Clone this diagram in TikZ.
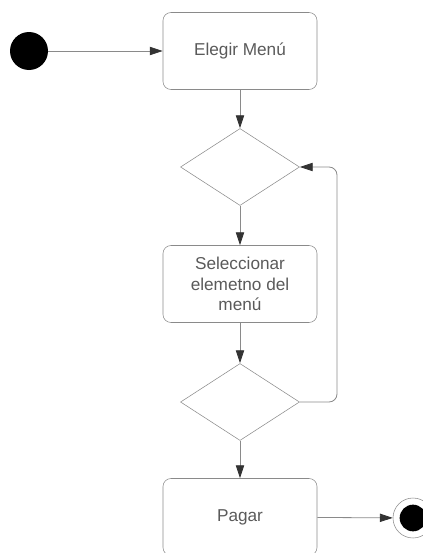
\documentclass[tikz,border=0pt]{standalone}
\usepackage{fontspec}
\setmainfont{Liberation Sans}
\usetikzlibrary{arrows.meta,shapes.geometric}
\definecolor{EDGE}{HTML}{8A8A8A}
\definecolor{INK}{HTML}{5A5A5A}
\definecolor{TIP}{HTML}{333333}
\begin{document}
\begin{tikzpicture}[x=0.75pt,y=-0.75pt]
\tikzset{act/.style={draw=EDGE,rounded corners=6pt,minimum width=115.5pt,minimum height=57.75pt,
  text=INK,align=center,font=\fontsize{12.9}{15.4}\selectfont,inner sep=0pt},
 choice/.style={diamond,draw=EDGE,minimum width=89.25pt,minimum height=57.75pt,inner sep=0pt},
 flow/.style={-{Triangle[length=3.4mm,width=2.2mm,color=TIP]},EDGE,semithick}}
\useasboundingbox (0,0) rectangle (422,553);
% start and end
\node[circle,fill=black,minimum size=28.5pt,inner sep=0pt] (start) at (29,51) {};
\node[circle,draw=EDGE,minimum size=30pt,inner sep=0pt] (stop) at (413,518) {};
\node[circle,fill=black,minimum size=20pt,inner sep=0pt] at (413,518) {};
% activities and decisions
\node[act] (menu) at (240,51) {Elegir Menú};
\node[choice] (d1) at (240,167) {};
\node[act] (sel) at (240,284) {Seleccionar\\elemetno del\\menú};
\node[choice] (d2) at (240,402) {};
\node[act] (pay) at (240,517) {Pagar};
% connectors
\draw[flow] (start) -- (menu);
\draw[flow] (menu) -- (d1);
\draw[flow] (d1) -- (sel);
\draw[flow] (sel) -- (d2);
\draw[flow] (d2) -- (pay);
\draw[flow,rounded corners=6pt] (d2.east) -| (337,167) -- (d1.east);
\draw[flow] (pay) -- (stop);
\end{tikzpicture}
\end{document}
